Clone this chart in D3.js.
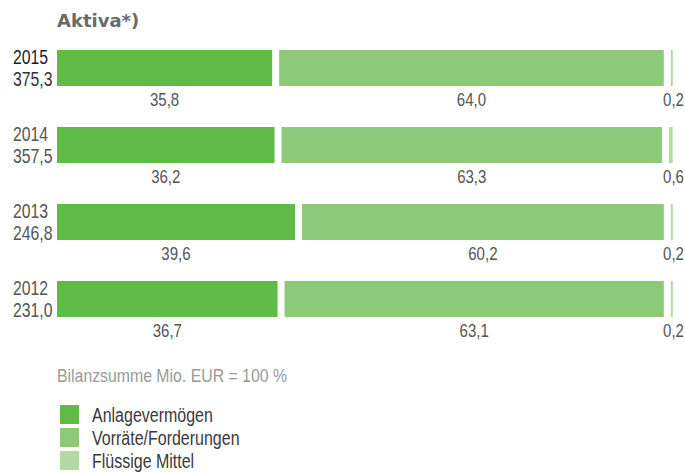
<!DOCTYPE html>
<html>
<head>
<meta charset="utf-8">
<script src="https://cdn.jsdelivr.net/npm/d3@7"></script>
<style>
  html, body { margin: 0; padding: 0; background: #fff; }
  svg { display: block; }
</style>
</head>
<body>
<svg id="chart" width="685" height="472"></svg>
<script>
// Balance sheet structure (assets), share of total in percent
const years = ["2015", "2014", "2013", "2012"];
const totals = ["375,3", "357,5", "246,8", "231,0"];
const anlagevermoegen = [35.8, 36.2, 39.6, 36.7];
const vorraete = [64.0, 63.3, 60.2, 63.1];
const fluessigeMittel = [0.2, 0.6, 0.2, 0.2];
const seriesNames = ["Anlagevermögen", "Vorräte/Forderungen", "Flüssige Mittel"];
const colors = ["#60bb46", "#8cc978", "#b3daa1"];

const fmt = v => v.toFixed(1).replace(".", ",");
const seriesValues = [anlagevermoegen, vorraete, fluessigeMittel];

const svg = d3.select("#chart");

// Narrow text: a sans face squeezed horizontally
function narrowText(parent, px, py, str, o) {
  const g = parent.append("g")
    .attr("transform", `translate(${px},${py}) scale(${o.sx || 0.82},1)`);
  return g.append("text")
    .attr("x", 0).attr("y", 0)
    .attr("font-family", "'Liberation Sans', Arial, sans-serif")
    .attr("font-size", o.size)
    .attr("text-anchor", o.anchor || "start")
    .attr("fill", o.fill)
    .text(str);
}

const left = 57, gap = 7, rightEdge = 672;
const x = d3.scaleLinear().domain([0, 100]).range([0, rightEdge - left - 2 * gap]);
const y = d3.scaleBand().domain(years).range([50, 50 + 77 * years.length]).paddingInner(0).paddingOuter(0);
const barH = 36;

// Title
svg.append("text")
  .attr("x", 57).attr("y", 27)
  .attr("font-family", "DejaVu Sans, sans-serif")
  .attr("font-weight", "bold").attr("font-size", 18)
  .attr("fill", "#6a6a6a")
  .text("Aktiva*)");

years.forEach((yr, i) => {
  const top = y(yr);
  const g = svg.append("g");
  // year and balance sheet total
  narrowText(g, 13, top + 13.5, yr, { size: 19.5, sx: 0.81, fill: i === 0 ? "#1e1e1e" : "#555" });
  narrowText(g, 13, top + 35.5, totals[i], { size: 19.5, sx: 0.81, fill: i === 0 ? "#333" : "#555" });

  let cum = 0;
  seriesValues.forEach((vals, s) => {
    const v = vals[i];
    const x0 = left + x(cum) + s * gap;
    const w = Math.max(x(v), 2);
    g.append("rect")
      .attr("x", x0).attr("y", top)
      .attr("width", w).attr("height", barH)
      .attr("fill", colors[s]);
    const last = s === seriesValues.length - 1;
    narrowText(g, last ? 684 : x0 + x(v) / 2, top + 56, fmt(v), {
      size: 17.5, sx: 0.86, anchor: last ? "end" : "middle", fill: "#555"
    });
    cum += v;
  });
});

// Footnote
narrowText(svg, 57, 381.5, "Bilanzsumme Mio. EUR = 100 %", { size: 18, sx: 0.88, fill: "#9a9a9a" });

// Legend
const legend = svg.append("g");
seriesNames.forEach((name, s) => {
  const ty = 405 + s * 23;
  legend.append("rect")
    .attr("x", 60).attr("y", ty)
    .attr("width", 19).attr("height", 19)
    .attr("fill", colors[s]);
  narrowText(legend, 92, ty + 17, name, { size: 19.5, sx: 0.82, fill: "#3a3a3a" });
});
</script>
</body>
</html>
